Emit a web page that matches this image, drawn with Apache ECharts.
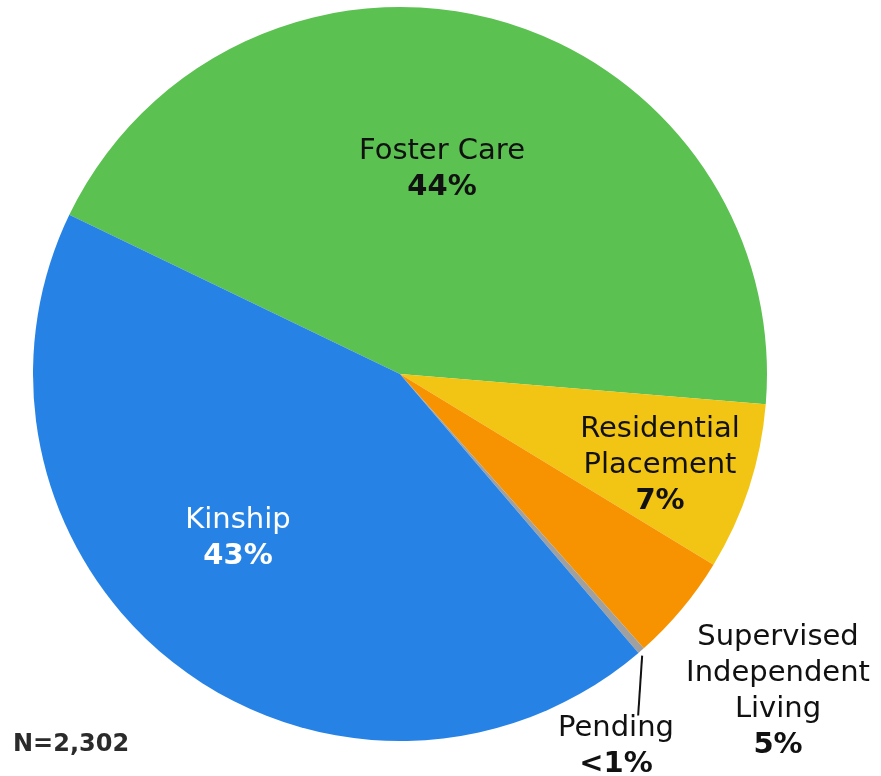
<!DOCTYPE html>
<html>
<head>
<meta charset="utf-8">
<script src="https://cdn.jsdelivr.net/npm/echarts@6/dist/echarts.min.js"></script>
<style>
  html, body { margin: 0; padding: 0; background: #fff; }
  #chart { width: 881px; height: 776px; }
</style>
</head>
<body>
<div id="chart"></div>
<script>
// 数据
var categories = ['Foster Care', 'Residential Placement', 'Supervised Independent Living', 'Pending', 'Kinship'];
var counts = [1017, 170, 109, 7, 999];
var pctLabels = ['44%', '7%', '5%', '<1%', '43%'];
var nameLines = [['Foster Care'], ['Residential', 'Placement'], ['Supervised', 'Independent', 'Living'], ['Pending'], ['Kinship']];
var totalN = '2,302';

// 样式
var colors = ['#5bc150', '#f2c414', '#f79300', '#a0a0a0', '#2683e5'];
var textColors = ['#111', '#111', '#111', '#111', '#fff'];
// 标签中心位置
var labelPos = [[442, 169], [660, 465], [778, 691], [616, 746], [238, 538]];
var font = 'DejaVu Sans';

var chart = echarts.init(document.getElementById('chart'));

var pieData = [];
for (var i = 0; i < categories.length; i++) {
  var txt = [];
  for (var j = 0; j < nameLines[i].length; j++) {
    txt.push('{n|' + nameLines[i][j] + '}');
  }
  txt.push('{p|' + pctLabels[i] + '}');
  pieData.push({
    name: categories[i],
    value: counts[i],
    itemStyle: { color: colors[i] },
    label: {
      formatter: txt.join('\n'),
      rich: {
        n: { fontFamily: font, fontSize: 29, color: textColors[i], lineHeight: 36, align: 'center' },
        p: { fontFamily: font, fontSize: 29, fontWeight: 'bold', color: textColors[i], lineHeight: 36, align: 'center' }
      }
    },
    labelLine: { show: categories[i] === 'Pending' }
  });
}

var option = {
  animation: false,
  title: {
    text: 'N=' + totalN,
    left: 8,
    top: 728,
    textStyle: { fontFamily: font, fontSize: 24, fontWeight: 'bold', color: '#2b2b2b' }
  },
  series: [
    {
      type: 'pie',
      center: [400, 374],
      radius: 367,
      startAngle: 154.3,
      clockwise: true,
      avoidLabelOverlap: false,
      label: { show: true, position: 'outside' },
      labelLine: {
        length: 6,
        length2: 6,
        smooth: false,
        lineStyle: { color: '#111', width: 2 }
      },
      labelLayout: function (params) {
        var p = labelPos[params.dataIndex];
        var res = { x: p[0], y: p[1], align: 'center', verticalAlign: 'middle' };
        var pts = params.labelLinePoints;
        if (pts && pts.length) {
          // 引导线几乎竖直向下到标签顶部
          var top = p[1] - params.labelRect.height / 2 + 2;
          var a = [pts[0][0] + 1, pts[0][1] + 5];
          var b = [pts[0][0] - 3, top];
          res.labelLinePoints = [a, [(a[0] + b[0]) / 2, (a[1] + b[1]) / 2], b];
        }
        return res;
      },
      data: pieData
    }
  ]
};

chart.setOption(option);
</script>
</body>
</html>
